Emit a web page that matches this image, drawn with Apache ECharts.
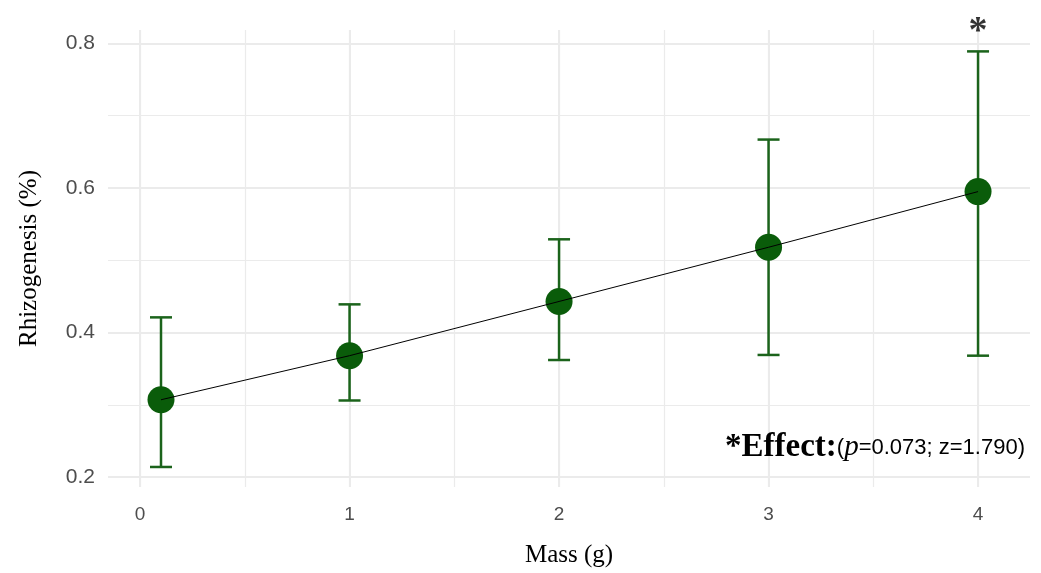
<!DOCTYPE html>
<html>
<head>
<meta charset="utf-8">
<script src="https://cdn.jsdelivr.net/npm/echarts@6/dist/echarts.min.js"></script>
<style>
  html, body { margin: 0; padding: 0; background: #fff; }
  #chart { width: 1041px; height: 573px; }
</style>
</head>
<body>
<div id="chart"></div>
<script>
(function(){
  // mass (g) and rhizogenesis means with error bar ends
  var mass = [0.1, 1, 2, 3, 4];
  var means = [0.307, 0.368, 0.443, 0.518, 0.595];
  var lower = [0.214, 0.306, 0.362, 0.369, 0.368];
  var upper = [0.421, 0.439, 0.529, 0.667, 0.789];
  var sigMass = [4];
  var sigUpper = [0.789];

  var green = '#0a5c0a';
  var barGreen = '#1b631b';
  var gridCol = '#ebebeb';

  var pts = mass.map(function(m, i){ return [m, means[i]]; });
  var bars = mass.map(function(m, i){ return [m, lower[i], upper[i]]; });
  var stars = sigMass.map(function(m, i){ return [m, sigUpper[i]]; });

  var chart = echarts.init(document.getElementById('chart'));

  var xMin = -0.153, xMax = 4.248, yMin = 0.1863, yMax = 0.8186;
  var sans = 'Liberation Sans, Arial, sans-serif';
  var serif = 'Liberation Serif, Times New Roman, serif';

  var option = {
    animation: false,
    backgroundColor: '#fff',
    grid: { left: 108, right: 11, top: 30, bottom: 83 },
    xAxis: [
      {
        type: 'value', min: xMin, max: xMax, splitNumber: 4,
        name: 'Mass (g)', nameLocation: 'middle', nameGap: 56,
        nameTextStyle: { color: '#000', fontSize: 25, fontFamily: serif },
        axisLine: { show: false }, axisTick: { show: false },
        axisLabel: { margin: 18, showMinLabel: false, showMaxLabel: false, color: '#4d4d4d', fontSize: 19, fontFamily: sans },
        splitLine: { show: true, showMinLine: false, showMaxLine: false, lineStyle: { color: gridCol, width: 2 } }
      },
      {
        type: 'value', min: xMin, max: xMax, splitNumber: 9,
        axisLine: { show: false }, axisTick: { show: false }, axisLabel: { show: false },
        splitLine: { show: true, showMinLine: false, showMaxLine: false, lineStyle: { color: gridCol, width: 1.2 } }
      }
    ],
    yAxis: [
      {
        type: 'value', min: yMin, max: yMax, splitNumber: 3,
        name: 'Rhizogenesis (%)', nameLocation: 'middle', nameGap: 66,
        nameTextStyle: { color: '#000', fontSize: 25, fontFamily: serif },
        axisLine: { show: false }, axisTick: { show: false },
        axisLabel: { margin: 13, showMinLabel: false, showMaxLabel: false, color: '#4d4d4d', fontSize: 21, fontFamily: sans },
        splitLine: { show: true, showMinLine: false, showMaxLine: false, lineStyle: { color: gridCol, width: 2 } }
      },
      {
        type: 'value', min: yMin, max: yMax, splitNumber: 6,
        axisLine: { show: false }, axisTick: { show: false }, axisLabel: { show: false },
        splitLine: { show: true, showMinLine: false, showMaxLine: false, lineStyle: { color: gridCol, width: 1.2 } }
      }
    ],
    series: [
      {
        type: 'custom',
        z: 2,
        data: bars,
        renderItem: function(params, api){
          var x = api.value(0);
          var top = api.coord([x, api.value(2)]);
          var bot = api.coord([x, api.value(1)]);
          var w = 11;
          var st = { stroke: barGreen, lineWidth: 2.5 };
          return {
            type: 'group',
            children: [
              { type: 'line', shape: { x1: top[0], y1: top[1], x2: bot[0], y2: bot[1] }, style: st },
              { type: 'line', shape: { x1: top[0] - w, y1: top[1], x2: top[0] + w, y2: top[1] }, style: st },
              { type: 'line', shape: { x1: bot[0] - w, y1: bot[1], x2: bot[0] + w, y2: bot[1] }, style: st }
            ]
          };
        }
      },
      {
        type: 'scatter',
        z: 3,
        data: pts,
        symbolSize: 27,
        itemStyle: { color: green, opacity: 1 }
      },
      {
        type: 'line',
        z: 4,
        data: pts,
        symbol: 'none',
        lineStyle: { color: '#000', width: 1 }
      },
      {
        type: 'scatter',
        z: 5,
        data: stars,
        symbolSize: 0,
        label: {
          show: true, position: 'top', distance: 0, formatter: '*',
          color: '#000', fontSize: 38, fontWeight: 'bold', fontFamily: serif
        }
      }
    ],
    graphic: [
      {
        type: 'text',
        z: 100,
        right: 16,
        top: 431,
        style: {
          text: '{b|*Effect:}{n|(}{i|p}{n|=0.073; z=1.790)}',
          rich: {
            b: { fontSize: 33, fontWeight: 'bold', fontFamily: serif, fill: '#000' },
            i: { fontSize: 29, fontStyle: 'italic', fontFamily: serif, fill: '#000' },
            n: { fontSize: 22, fontFamily: sans, fill: '#000' }
          }
        }
      }
    ]
  };

  chart.setOption(option);
})();
</script>
</body>
</html>
